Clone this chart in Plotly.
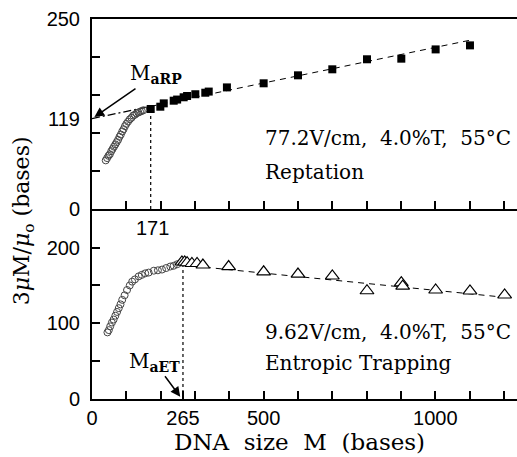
import plotly.graph_objects as go

# ---- data ----
rep_circ_x = [40, 44, 48, 52, 56, 60, 64, 68, 72, 76, 80, 84, 88, 92, 96, 100, 105, 110, 115, 120, 125, 130, 135, 140, 145, 150]
rep_circ_y = [64, 67, 70, 72, 76, 79, 82, 85, 88, 91, 95, 98, 102, 105, 109, 112, 115, 118, 120, 123, 124, 126, 127, 128, 129, 130]
rep_sq_x = [171, 199, 209, 238, 248, 267, 277, 301, 330, 340, 393, 500, 600, 700, 801, 901, 1001, 1101]
rep_sq_y = [131.6, 134.6, 139, 142.5, 144, 147, 148.7, 151, 153, 154.5, 160, 165.4, 175.9, 183.8, 197, 197.8, 210, 215.3]
rep_fit_x = [0, 171, 1100]
rep_fit_y = [119, 135, 222]
M_aRP = 171

et_circ_x = [45, 49, 53, 58, 63, 68, 73, 78, 83, 88, 95, 102, 110, 117, 125, 136, 145, 155, 165, 180, 192, 204, 216, 228, 238, 248]
et_circ_y = [88, 91, 96, 101, 105, 110, 115, 120, 125, 131, 137, 144, 150, 155, 158, 162, 164, 166, 167, 169.5, 170, 171, 173, 175, 176, 178]
et_tri_x = [262, 270, 277, 291, 306, 323, 398, 500, 600, 700, 801, 901, 905, 1001, 1101, 1202]
et_tri_y = [181, 181, 180, 179, 179, 177, 175, 168, 165, 162.5, 143, 153.6, 149, 144, 142.7, 137.4]
et_fit_x = [265, 1210]
et_fit_y = [177, 134]
M_aET = 265
et_top = 176

fig = go.Figure()
serif = "DejaVu Serif"
sans = "Liberation Sans"

# top panel (x2, y2)
fig.add_trace(go.Scatter(x=rep_fit_x[:2], y=rep_fit_y[:2], mode="lines",
                         line=dict(color="black", width=1.2, dash="8px,3px,2px,3px"), xaxis="x2", yaxis="y2"))
fig.add_trace(go.Scatter(x=rep_fit_x[1:], y=rep_fit_y[1:], mode="lines",
                         line=dict(color="black", width=1, dash="6px,5px"), xaxis="x2", yaxis="y2"))
fig.add_trace(go.Scatter(x=[M_aRP, M_aRP], y=[0, rep_sq_y[0]], mode="lines",
                         line=dict(color="black", width=1.2, dash="dot"), xaxis="x2", yaxis="y2"))
fig.add_trace(go.Scatter(x=rep_circ_x, y=rep_circ_y, mode="markers",
                         marker=dict(symbol="circle-open", size=7, color="#444", line=dict(width=1)),
                         xaxis="x2", yaxis="y2"))
fig.add_trace(go.Scatter(x=rep_sq_x, y=rep_sq_y, mode="markers",
                         marker=dict(symbol="square", size=8, color="black"),
                         xaxis="x2", yaxis="y2"))

# bottom panel (x, y)
fig.add_trace(go.Scatter(x=et_fit_x, y=et_fit_y, mode="lines",
                         line=dict(color="black", width=1, dash="6px,5px")))
fig.add_trace(go.Scatter(x=[M_aET, M_aET], y=[0, et_top], mode="lines",
                         line=dict(color="black", width=1.2, dash="dot")))
fig.add_trace(go.Scatter(x=et_circ_x, y=et_circ_y, mode="markers",
                         marker=dict(symbol="circle-open", size=7, color="#444", line=dict(width=1))))
fig.add_trace(go.Scatter(x=et_tri_x, y=et_tri_y, mode="markers",
                         marker=dict(symbol="triangle-up", size=12, color="white",
                                     line=dict(color="black", width=1.2))))

xr = [0, 1238]
common_x = dict(range=xr, showline=True, linecolor="black", linewidth=2, showgrid=False, zeroline=False,
                ticks="inside", ticklen=8, tickwidth=1.5, tickcolor="black",
                tickfont=dict(family=sans, size=20, color="black"),
                minor=dict(tickmode="array", tickvals=[100, 200, 300, 400, 600, 700, 800, 900, 1100, 1200],
                           ticks="inside", ticklen=8, tickwidth=1.5, tickcolor="black"))
common_y = dict(showline=True, linecolor="black", linewidth=2, showgrid=False, zeroline=False,
                ticks="inside", ticklen=8, tickwidth=1.5, tickcolor="black",
                tickfont=dict(family=sans, size=20, color="black"), ticklabelstandoff=6)

fig.update_layout(
    width=517, height=457, margin=dict(l=92, r=0, t=19, b=58),
    paper_bgcolor="white", plot_bgcolor="white", showlegend=False,
    xaxis=dict(common_x, domain=[0, 1], anchor="y",
               tickmode="array", tickvals=[0, 265, 500, 1000], ticktext=["0", "265", "500", "1000"]),
    yaxis=dict(common_y, domain=[0, 0.5], range=[0, 251], anchor="x",
               tickmode="array", tickvals=[0, 100, 200], ticktext=["0", "100", "200"],
               minor=dict(tickmode="array", tickvals=[50, 150], ticks="inside", ticklen=8,
                          tickwidth=1.5, tickcolor="black")),
    xaxis2=dict(common_x, domain=[0, 1], anchor="y2", showticklabels=False, mirror=True,
                tickmode="array", tickvals=[0, 500, 1000]),
    yaxis2=dict(common_y, domain=[0.5, 1], range=[0, 250], anchor="x2",
                tickmode="array", tickvals=[0, 119, 250], ticktext=["0", "119", "250"], ticks="",
                minor=dict(tickmode="array", tickvals=[50, 100, 150, 200], ticks="inside", ticklen=8,
                           tickwidth=1.5, tickcolor="black")),
)

ann = []
tf = dict(family=serif, size=20, color="black")
ann.append(dict(x=499, y=94, xref="x2", yref="y2", text="77.2V/cm,  4.0%T,  55°C", showarrow=False,
                xanchor="left", yanchor="middle", font=tf))
ann.append(dict(x=499, y=48.7, xref="x2", yref="y2", text="Reptation", showarrow=False,
                xanchor="left", yanchor="middle", font=tf))
ann.append(dict(x=499, y=88.5, xref="x", yref="y", text="9.62V/cm,  4.0%T,  55°C", showarrow=False,
                xanchor="left", yanchor="middle", font=tf))
ann.append(dict(x=499, y=47.5, xref="x", yref="y", text="Entropic Trapping", showarrow=False,
                xanchor="left", yanchor="middle", font=tf))
# M_aRP label with arrow pointing at the intercept
ann.append(dict(x=7, y=121, xref="x2", yref="y2", text="M<sub><b>aRP</b></sub>", showarrow=True,
                ax=62, ay=-43, arrowhead=2, arrowsize=1.3, arrowwidth=1.5, arrowcolor="black",
                font=dict(family=serif, size=20, color="black")))
# M_aET label with arrow pointing at 265
ann.append(dict(x=257, y=3, xref="x", yref="y", text="M<sub><b>aET</b></sub>", showarrow=True,
                ax=-26, ay=-35, arrowhead=2, arrowsize=1.3, arrowwidth=1.5, arrowcolor="black",
                font=dict(family=serif, size=20, color="black")))
# 171 label
ann.append(dict(x=175, y=226, xref="x", yref="y", text="171", showarrow=False,
                xanchor="center", yanchor="middle", font=dict(family=sans, size=20, color="black")))
# axis titles
ann.append(dict(x=-0.162, y=0.468, xref="paper", yref="paper", text="3<i>μ</i>M/<i>μ</i><sub>o</sub> (bases)",
                showarrow=False, textangle=-90, xanchor="center", yanchor="middle",
                font=dict(family=serif, size=22, color="black")))
ann.append(dict(x=0.489, y=-0.1526, xref="paper", yref="paper", text="DNA  size  M  (bases)",
                showarrow=False, xanchor="center", yanchor="bottom",
                font=dict(family=serif, size=23, color="black")))
fig.update_layout(annotations=ann)

fig.write_html("out.html")
